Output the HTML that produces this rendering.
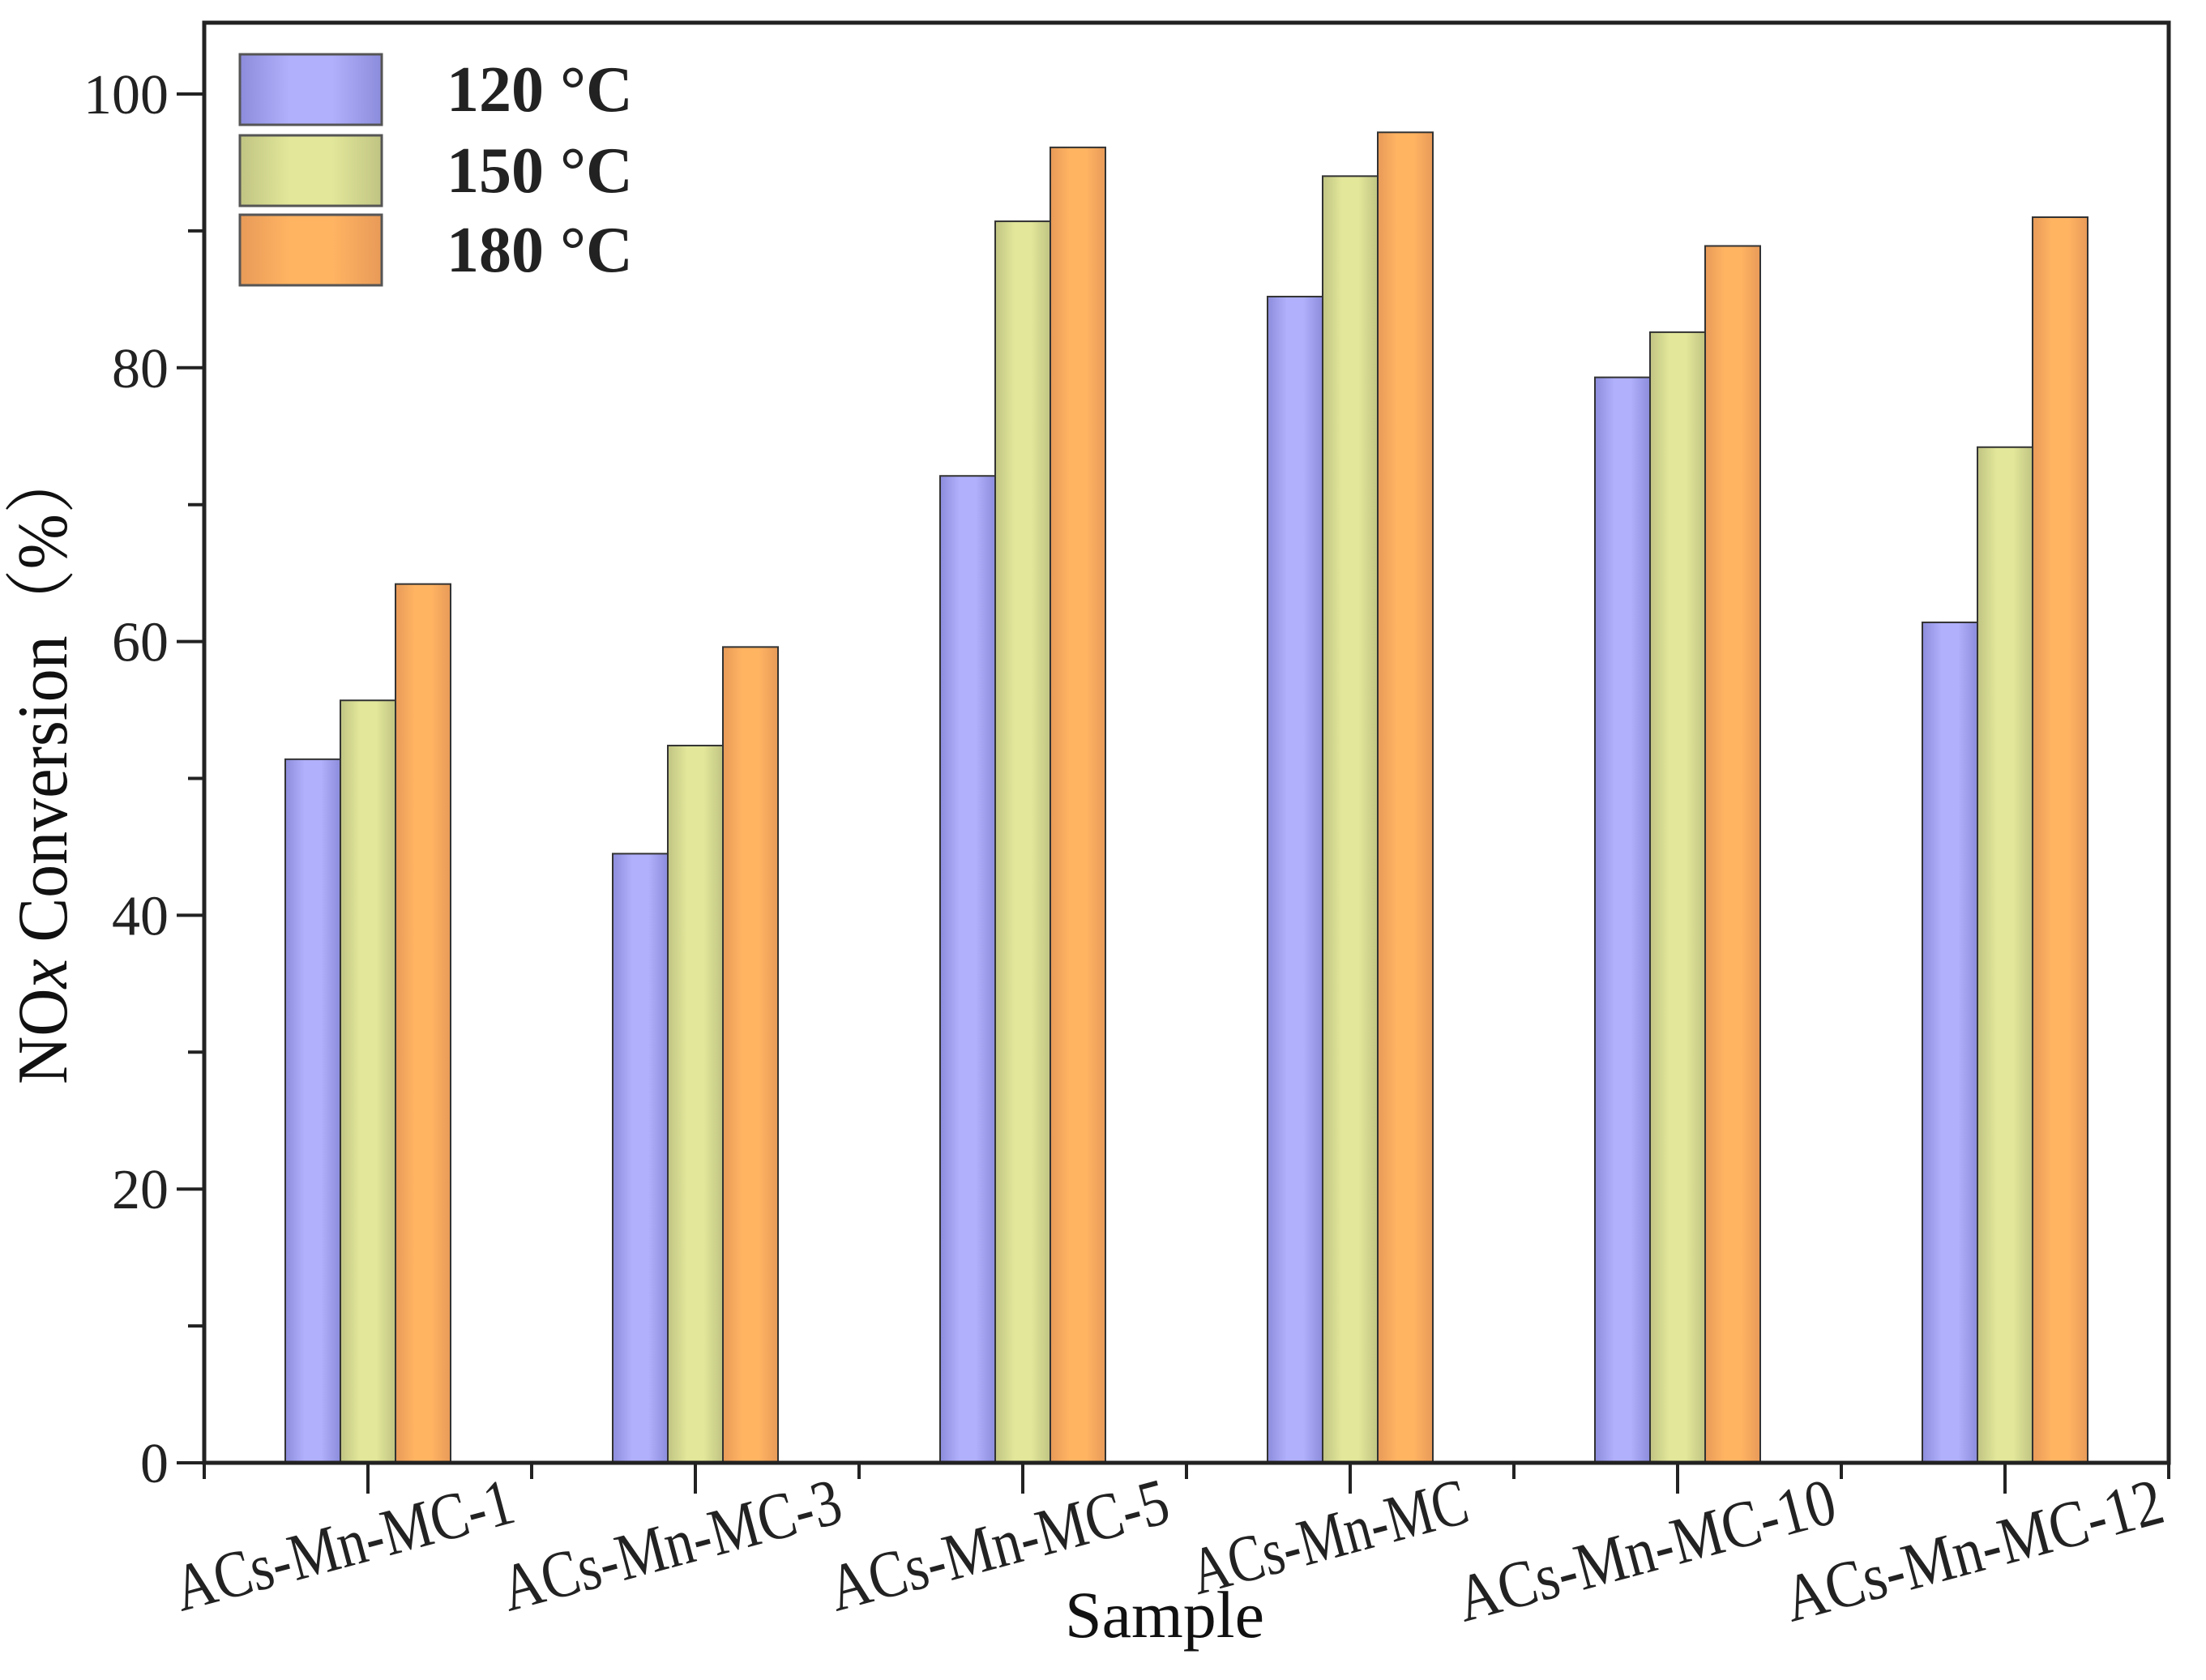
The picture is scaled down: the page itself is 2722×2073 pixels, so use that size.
<!DOCTYPE html>
<html><head><meta charset="utf-8"><style>
html,body{margin:0;padding:0;background:#fff;}
svg{display:block;font-family:"Liberation Serif","Noto Serif CJK SC",serif;}
</style></head><body>
<svg id="chart" width="2722" height="2073" viewBox="0 0 2722 2073" xmlns="http://www.w3.org/2000/svg">
<defs>
<linearGradient id="gBlue" x1="0" x2="1" y1="0" y2="0"><stop offset="0" stop-color="#8c8cdc"/><stop offset="0.35" stop-color="#b0b0fc"/><stop offset="0.65" stop-color="#b0b0fc"/><stop offset="1" stop-color="#8c8cdc"/></linearGradient>
<linearGradient id="gGreen" x1="0" x2="1" y1="0" y2="0"><stop offset="0" stop-color="#c0c482"/><stop offset="0.35" stop-color="#e2e79a"/><stop offset="0.65" stop-color="#e2e79a"/><stop offset="1" stop-color="#c0c482"/></linearGradient>
<linearGradient id="gOrange" x1="0" x2="1" y1="0" y2="0"><stop offset="0" stop-color="#e89a58"/><stop offset="0.35" stop-color="#ffb462"/><stop offset="0.65" stop-color="#ffb462"/><stop offset="1" stop-color="#e89a58"/></linearGradient>
</defs>
<g id="bars"></g>
<g id="axes"></g>
<g id="legend"></g>
<text x="1437" y="2020" font-size="82" text-anchor="middle" fill="#111">Sample</text>
<text transform="translate(82,945) rotate(-90)" font-size="88" text-anchor="middle" fill="#111" textLength="786" lengthAdjust="spacingAndGlyphs">NO<tspan font-style="italic">x</tspan> Conversion（%）</text>
</svg>
<script>
const categories = ["ACs-Mn-MC-1","ACs-Mn-MC-3","ACs-Mn-MC-5","ACs-Mn-MC","ACs-Mn-MC-10","ACs-Mn-MC-12"];
const seriesNames = ["120 °C","150 °C","180 °C"];
const s120 = [51.4, 44.5, 72.1, 85.2, 79.3, 61.4];
const s150 = [55.7, 52.4, 90.7, 94.0, 82.6, 74.2];
const s180 = [64.2, 59.6, 96.1, 97.2, 88.9, 91.0];
const yTicks = [0, 20, 40, 60, 80, 100];

const NS = "http://www.w3.org/2000/svg";
const L = 252, R = 2676, T = 28, B = 1805;
function yS(v){ return B - v * (B - 116) / 100; }
function xS(i){ return L + (R - L) * (i + 0.5) / categories.length; }
const bw = 68;
const series = [s120, s150, s180];
const fills = ["url(#gBlue)","url(#gGreen)","url(#gOrange)"];
const names = ["bar-120c","bar-150c","bar-180c"];
function mk(tag, attrs, parent){ const e=document.createElementNS(NS,tag); for(const k in attrs) e.setAttribute(k,attrs[k]); parent.appendChild(e); return e; }

const gb = document.getElementById("bars");
series.forEach((arr, si) => {
  arr.forEach((v, ci) => {
    const cx = xS(ci) + (si - 1) * bw;
    const r = mk("rect", {x: cx - bw/2, y: yS(v), width: bw, height: B - yS(v), fill: fills[si], stroke: "#333", "stroke-width": 2}, gb);
    
    
  });
});

const ga = document.getElementById("axes");
const frame = mk("rect", {x: L, y: T, width: R - L, height: B - T, fill: "none", stroke: "#222", "stroke-width": 5}, ga);


for (let v = 0; v <= 100; v += 10) {
  const major = v % 20 === 0;
  const t = mk("line", {x1: L - (major ? 34 : 20), x2: L, y1: yS(v), y2: yS(v), stroke: "#222", "stroke-width": 4}, ga);
  
  
}
yTicks.forEach(v => {
  const tx = mk("text", {x: 208, y: yS(v) + 24, "font-size": 70, "text-anchor": "end", fill: "#222"}, ga);
  tx.textContent = String(v);
  
  
});
for (let i = 0; i <= categories.length; i++) {
  const x = L + (R - L) * i / categories.length;
  const t = mk("line", {x1: x, x2: x, y1: B, y2: B + 20, stroke: "#222", "stroke-width": 4}, ga);
  
  
}
categories.forEach((c, i) => {
  const x = xS(i);
  const t = mk("line", {x1: x, x2: x, y1: B, y2: B + 38, stroke: "#222", "stroke-width": 4}, ga);
  
  
  const len = c.length > 11 ? 480 : (c.length > 9 ? 430 : 350);
  const off = c.length > 11 ? 200 : (c.length > 9 ? 185 : 150);
  const tx = mk("text", {transform: `translate(${x + off},1877) rotate(-15)`, "font-size": 82, "text-anchor": "end", fill: "#222", textLength: len, lengthAdjust: "spacingAndGlyphs"}, ga);
  tx.textContent = c;
  
  
});

const gl = document.getElementById("legend");
const legY = [67, 167, 265];
seriesNames.forEach((n, i) => {
  const sw = mk("rect", {x: 296, y: legY[i], width: 175, height: 87, fill: fills[i], stroke: "#555", "stroke-width": 3}, gl);
  
  
  const tx = mk("text", {x: 551, y: legY[i] + 70, "font-size": 80, "font-weight": "bold", fill: "#222"}, gl);
  tx.textContent = n;
  
  
});
</script>
</body></html>
